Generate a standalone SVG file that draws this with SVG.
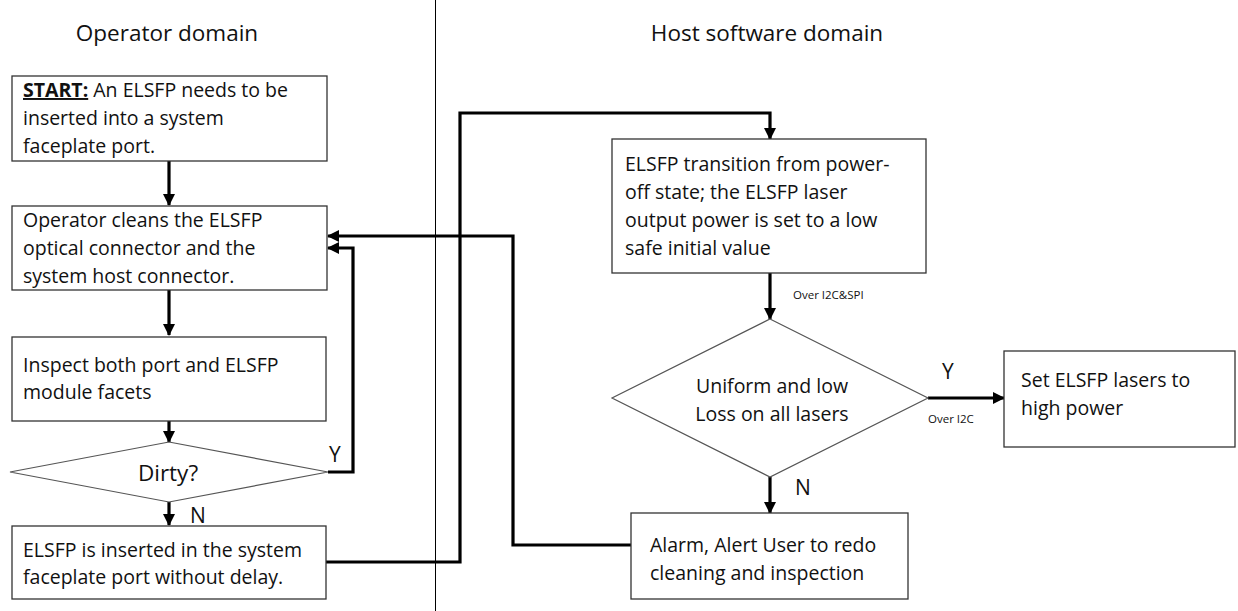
<svg xmlns="http://www.w3.org/2000/svg" width="1238" height="611" viewBox="0 0 1238 611">
<defs>
<style>
.box{fill:#fff;stroke:#333;stroke-width:1.3}
.dia{fill:#fff;stroke:#555;stroke-width:1.2}
.t{font-family:"Open Sans","DejaVu Sans",sans-serif;font-size:19.5px;fill:#111}
.l{font-family:"Open Sans","DejaVu Sans",sans-serif;font-size:21px;fill:#111}
.h{font-family:"Open Sans","DejaVu Sans",sans-serif;font-size:22.5px;fill:#111}
.s{font-family:"Open Sans","DejaVu Sans",sans-serif;font-size:11.5px;fill:#111}
.c{fill:none;stroke:#000;stroke-width:3.2}
</style>
<marker id="ah" markerUnits="userSpaceOnUse" markerWidth="12" markerHeight="12" viewBox="0 0 12 12" refX="11" refY="6" orient="auto">
<path d="M0,0 L12,6 L0,12 Z" fill="#000"/>
</marker>
</defs>
<rect width="1238" height="611" fill="#fff"/>
<line x1="435.5" y1="0" x2="435.5" y2="611" stroke="#000" stroke-width="1"/>
<text class="h" x="167" y="41" text-anchor="middle">Operator domain</text>
<text class="h" x="767" y="41" text-anchor="middle">Host software domain</text>

<g id="connectors">
<path class="c" d="M169,161 V205" marker-end="url(#ah)"/>
<path class="c" d="M169,290 V335" marker-end="url(#ah)"/>
<path class="c" d="M169,421 V442" marker-end="url(#ah)"/>
<path class="c" d="M169,502 V525" marker-end="url(#ah)"/>
<path class="c" d="M328,472 H353 V248 H328" marker-end="url(#ah)"/>
<path class="c" d="M326,562 H460 V113 H770 V139" marker-end="url(#ah)"/>
<path class="c" d="M631,545 H513 V236 H328" marker-end="url(#ah)"/>
<path class="c" d="M770,273 V319" marker-end="url(#ah)"/>
<path class="c" d="M928,398 H1004" marker-end="url(#ah)"/>
<path class="c" d="M770,477 V513" marker-end="url(#ah)"/>
<text class="l" x="329" y="462">Y</text>
<text class="l" x="190" y="523">N</text>
<text class="s" x="793" y="299">Over I2C&amp;SPI</text>
<text class="l" x="942" y="379">Y</text>
<text class="s" x="928" y="423">Over I2C</text>
<text class="l" x="795" y="495">N</text>
</g>

<g id="start">
<rect class="box" x="12" y="76" width="315" height="85"/>
<text class="t" x="23" y="97"><tspan font-weight="bold" text-decoration="underline">START:</tspan> An ELSFP needs to be</text>
<text class="t" x="23" y="125">inserted into a system</text>
<text class="t" x="23" y="153">faceplate port.</text>
</g>

<g id="clean">
<rect class="box" x="12" y="206" width="315" height="84"/>
<text class="t" x="23" y="227">Operator cleans the ELSFP</text>
<text class="t" x="23" y="255">optical connector and the</text>
<text class="t" x="23" y="283">system host connector.</text>
</g>

<g id="inspect">
<rect class="box" x="12" y="337" width="314" height="84"/>
<text class="t" x="23" y="372">Inspect both port and ELSFP</text>
<text class="t" x="23" y="399">module facets</text>
</g>

<g id="dirty">
<polygon class="dia" points="169,442 328,472 169,502 10,472"/>
<text class="h" x="168" y="481" text-anchor="middle">Dirty?</text>
</g>

<g id="insert">
<rect class="box" x="12" y="526" width="314" height="73"/>
<text class="t" x="23" y="557">ELSFP is inserted in the system</text>
<text class="t" x="23" y="584">faceplate port without delay.</text>
</g>

<g id="transition">
<rect class="box" x="612" y="139" width="314" height="134"/>
<text class="t" x="625" y="171">ELSFP transition from power-</text>
<text class="t" x="625" y="199">off state; the ELSFP laser</text>
<text class="t" x="625" y="227">output power is set to a low</text>
<text class="t" x="625" y="255">safe initial value</text>
</g>

<g id="uniform">
<polygon class="dia" points="770,319 928,398 770,477 612,398"/>
<text class="t" x="772" y="393" text-anchor="middle">Uniform and low</text>
<text class="t" x="772" y="421" text-anchor="middle">Loss on all lasers</text>
</g>

<g id="highpower">
<rect class="box" x="1004" y="351" width="231" height="96"/>
<text class="t" x="1021" y="387">Set ELSFP lasers to</text>
<text class="t" x="1021" y="415">high power</text>
</g>

<g id="alarm">
<rect class="box" x="631" y="513" width="277" height="86"/>
<text class="t" x="650" y="552">Alarm, Alert User to redo</text>
<text class="t" x="650" y="580">cleaning and inspection</text>
</g>
</svg>
